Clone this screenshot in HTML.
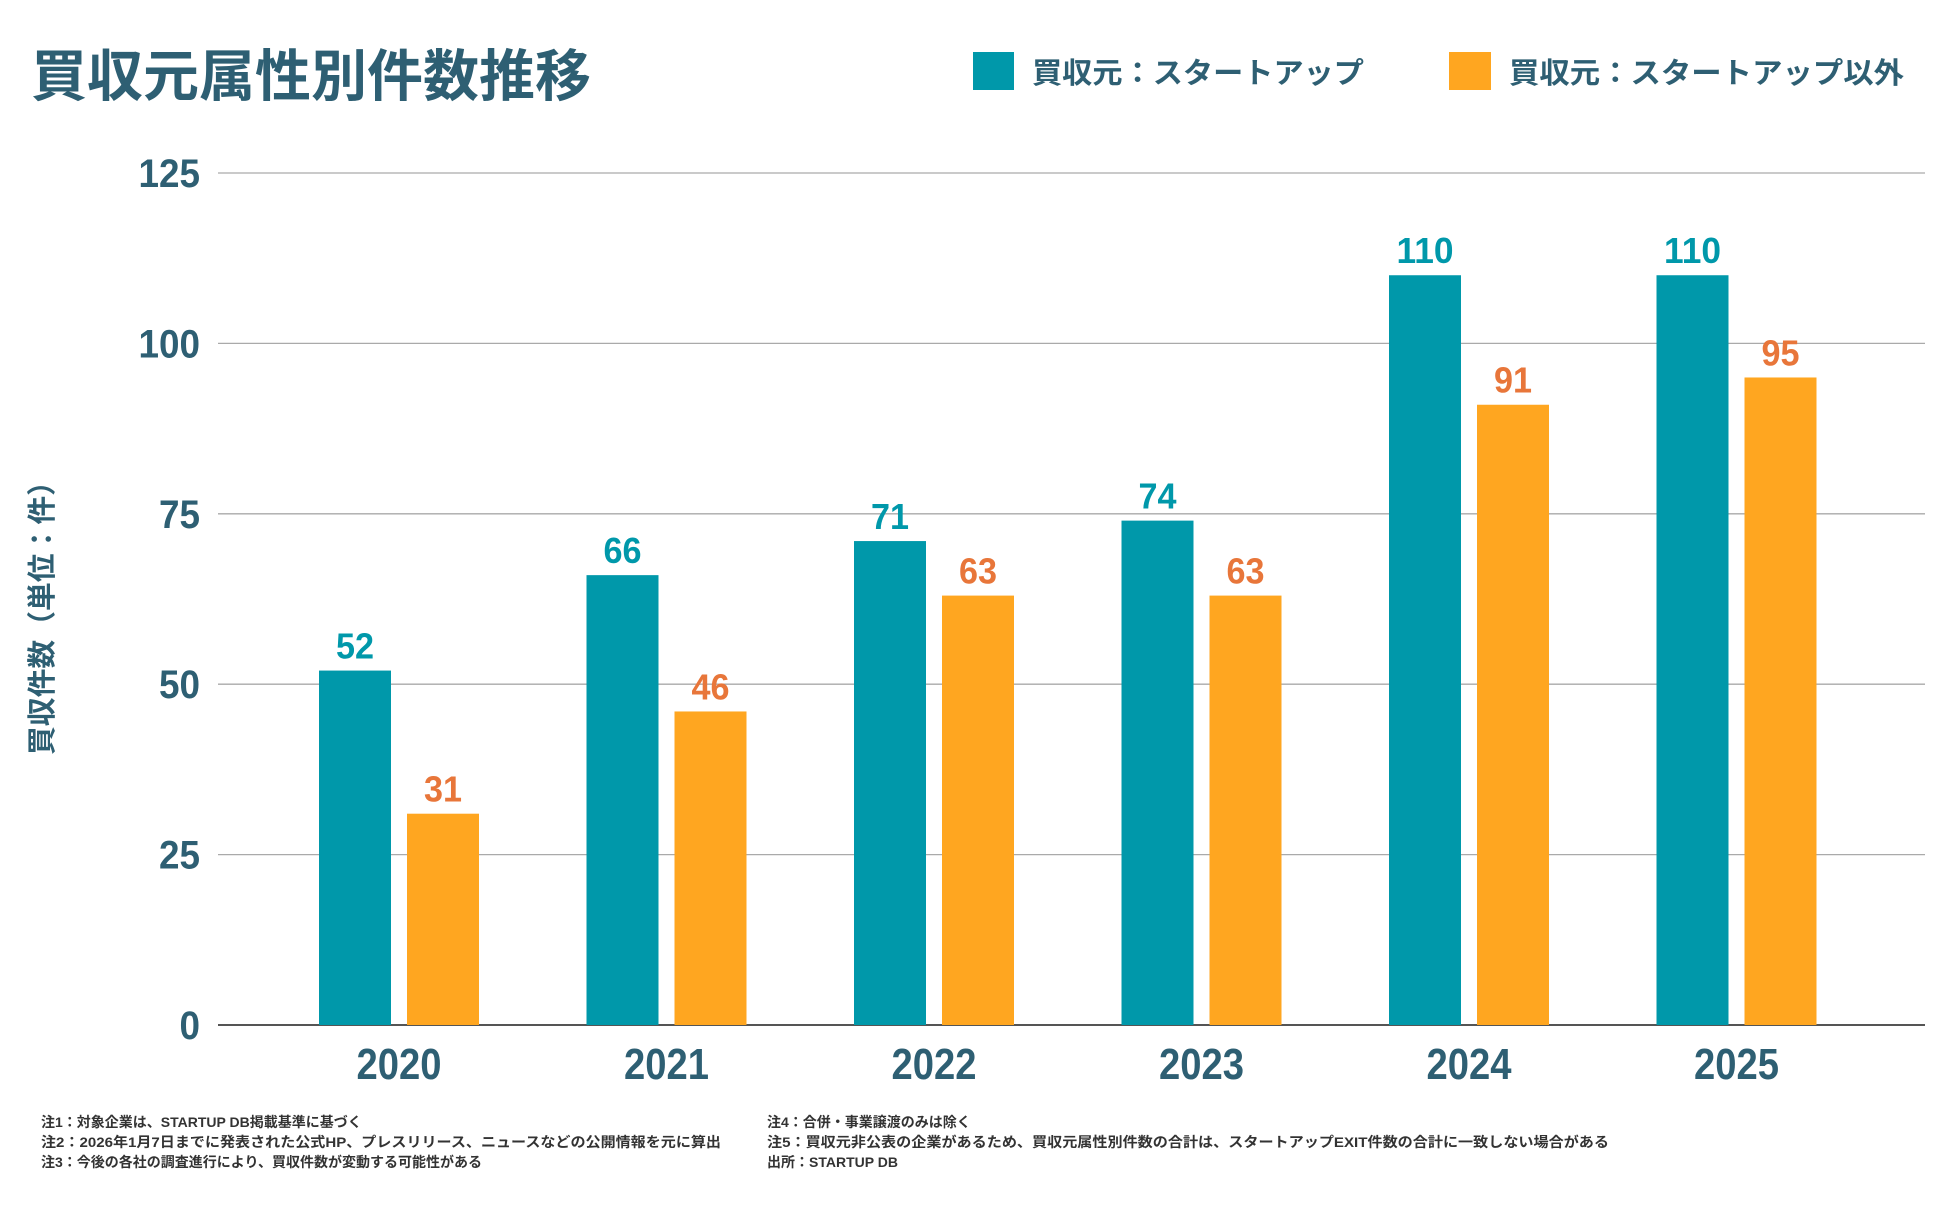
<!DOCTYPE html>
<html><head><meta charset="utf-8">
<style>
html,body{margin:0;padding:0;background:#fff;}
body{width:1946px;height:1225px;overflow:hidden;position:relative;font-family:"Liberation Sans","Noto Sans CJK JP",sans-serif;}
svg{position:absolute;left:0;top:0;}
.cjk{font-family:"Liberation Sans","Noto Sans CJK JP",sans-serif;font-weight:700;}
.num{font-family:"Liberation Sans","Noto Sans CJK JP",sans-serif;font-weight:700;}
</style></head>
<body>
<svg id="chart" width="1946" height="1225" viewBox="0 0 1946 1225">
  <text class="cjk" x="31" y="96" font-size="56" fill="#2E5F73">買収元属性別件数推移</text>
  <g>
    <rect x="973" y="52" width="41" height="38" fill="#0098AA"/>
    <text class="cjk" x="1032" y="83" font-size="29" fill="#2E5F73" textLength="332" lengthAdjust="spacingAndGlyphs">買収元：スタートアップ</text>
    <rect x="1449" y="52" width="42" height="38" fill="#FFA620"/>
    <text class="cjk" x="1509" y="83" font-size="29" fill="#2E5F73" textLength="395" lengthAdjust="spacingAndGlyphs">買収元：スタートアップ以外</text>
  </g>
  <text class="cjk" transform="translate(52,611) rotate(-90)" text-anchor="middle" font-size="29" fill="#2E5F73" textLength="288" lengthAdjust="spacingAndGlyphs">買収件数（単位：件）</text>
  <g id="grid"></g>
  <g id="bars"></g>
  <g class="cjk" font-size="14" fill="#333" font-weight="400">
    <text x="41" y="1127">注1：対象企業は、STARTUP DB掲載基準に基づく</text>
    <text x="41" y="1147" textLength="680" lengthAdjust="spacingAndGlyphs">注2：2026年1月7日までに発表された公式HP、プレスリリース、ニュースなどの公開情報を元に算出</text>
    <text x="41" y="1167">注3：今後の各社の調査進行により、買収件数が変動する可能性がある</text>
    <text x="767" y="1127">注4：合併・事業譲渡のみは除く</text>
    <text x="767" y="1147" textLength="842" lengthAdjust="spacingAndGlyphs">注5：買収元非公表の企業があるため、買収元属性別件数の合計は、スタートアップEXIT件数の合計に一致しない場合がある</text>
    <text x="767" y="1167">出所：STARTUP DB</text>
  </g>
</svg>
<script>
const categories = ["2020","2021","2022","2023","2024","2025"];
const startupValues = [52,66,71,74,110,110];
const nonStartupValues = [31,46,63,63,91,95];
const yTicks = [0,25,50,75,100,125];

const NS = "http://www.w3.org/2000/svg";
const plotLeft = 218, plotRight = 1925, yZero = 1025, yTop = 173, yMax = 125;
const firstCenter = 399, step = 267.5, barW = 72, gap = 16;
function yScale(v){ return yZero - (v / yMax) * (yZero - yTop); }
function xCenter(i){ return firstCenter + i * step; }
function mk(tag, attrs, parent, text){
  const el = document.createElementNS(NS, tag);
  for (const k in attrs) el.setAttribute(k, attrs[k]);
  if (text !== undefined) el.textContent = text;
  parent.appendChild(el);
  return el;
}
const grid = document.getElementById('grid');
yTicks.forEach(t => {
  const y = yScale(t);
  const ln = mk('line', {x1: plotLeft, x2: plotRight, y1: y, y2: y, stroke: t === 0 ? '#555' : '#aaa', 'stroke-width': t === 0 ? 2 : 1.3}, grid);
  
  
  const s = String(t);
  const tx = mk('text', {x: 200, y: y + 14, 'text-anchor': 'end', 'font-size': 40, fill: '#2E5F73', class: 'num', textLength: s.length * 20.5, lengthAdjust: 'spacingAndGlyphs'}, grid, s);
  
  
});
const bars = document.getElementById('bars');
categories.forEach((c, i) => {
  const cx = xCenter(i);
  const x1 = cx - gap / 2 - barW, x2 = cx + gap / 2;
  const v1 = startupValues[i], v2 = nonStartupValues[i];
  const r1 = mk('rect', {x: x1, y: yScale(v1), width: barW, height: yZero - yScale(v1), fill: '#0098AA'}, bars);
  
  
  const r2 = mk('rect', {x: x2, y: yScale(v2), width: barW, height: yZero - yScale(v2), fill: '#FFA620'}, bars);
  
  
  const s1 = String(v1), s2 = String(v2);
  const l1 = mk('text', {x: x1 + barW / 2, y: yScale(v1) - 12, 'text-anchor': 'middle', 'font-size': 36, fill: '#0098AA', class: 'num', textLength: s1.length * 19, lengthAdjust: 'spacingAndGlyphs'}, bars, s1);
  
  
  const l2 = mk('text', {x: x2 + barW / 2, y: yScale(v2) - 12, 'text-anchor': 'middle', 'font-size': 36, fill: '#E8763A', class: 'num', textLength: s2.length * 19, lengthAdjust: 'spacingAndGlyphs'}, bars, s2);
  
  
  const xl = mk('text', {x: cx, y: 1079, 'text-anchor': 'middle', 'font-size': 44, fill: '#2E5F73', class: 'num', textLength: 85, lengthAdjust: 'spacingAndGlyphs'}, bars, c);
  
  
});
</script>
</body></html>
